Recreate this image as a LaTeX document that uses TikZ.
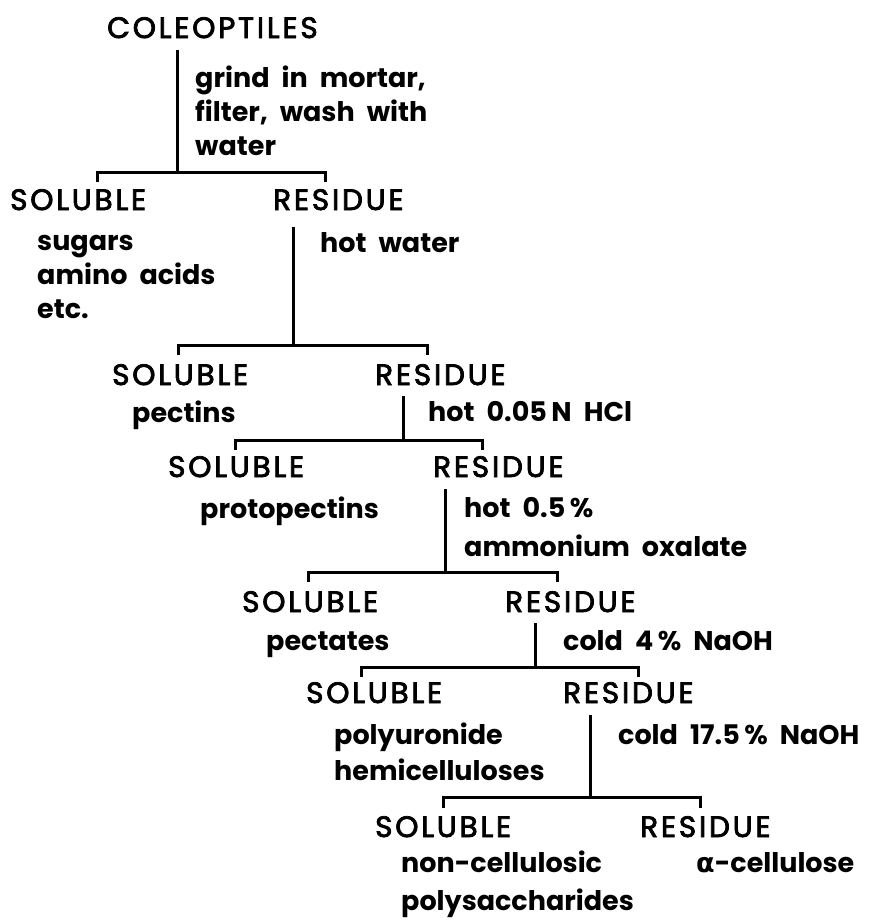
\documentclass[tikz,border=0pt]{standalone}
\usepackage{fontspec}
\setmainfont{Poppins}
\newfontfamily\capfont[FakeBold=2.6,LetterSpace=9.5]{Poppins}
\newfontfamily\lowfont[WordSpace=2.1]{Poppins}
\newfontfamily\greekfont{DejaVu Sans}
\begin{document}
\begin{tikzpicture}[x=1pt,y=-1pt,
  captext/.style={anchor=base west,inner sep=0pt,font=\capfont\fontsize{29.5}{29.5}\selectfont},
  lowtext/.style={anchor=base west,inner sep=0pt,font=\lowfont\fontsize{27}{27}\selectfont\bfseries},
  conn/.style={line width=3pt,line cap=butt}]
\useasboundingbox (0,0) rectangle (870,921);
% texts
\node[captext] (col) at (107,38) {COLEOPTILES};
\node[lowtext] (l1a) at (195,87) {grind in mortar,};
\node[lowtext] (l1b) at (195,121) {filter, wash with};
\node[lowtext] (l1c) at (195,155) {water};
\node[captext] (s1) at (10,210) {SOLUBLE};
\node[captext] (r1) at (273,210) {RESIDUE};
\node[lowtext] (s1a) at (37,250) {sugars};
\node[lowtext] (s1b) at (37,284) {amino acids};
\node[lowtext] (s1c) at (37,318) {etc.};
\node[lowtext] (l2) at (320,252) {hot water};
\node[captext] (s2) at (112,385) {SOLUBLE};
\node[captext] (r2) at (375,385) {RESIDUE};
\node[lowtext] (s2a) at (132,422) {pectins};
\node[lowtext] (l3) at (428,421) {hot 0.05\,N HCl};
\node[captext] (s3) at (168,477) {SOLUBLE};
\node[captext] (r3) at (433,477) {RESIDUE};
\node[lowtext] (s3a) at (200,518) {protopectins};
\node[lowtext] (l4a) at (464,517) {hot 0.5\,\%};
\node[lowtext] (l4b) at (464,556) {ammonium oxalate};
\node[captext] (s4) at (242,612) {SOLUBLE};
\node[captext] (r4) at (505,612) {RESIDUE};
\node[lowtext] (s4a) at (266,650) {pectates};
\node[lowtext] (l5) at (563,650) {cold 4\,\% NaOH};
\node[captext] (s5) at (306,703) {SOLUBLE};
\node[captext] (r5) at (563,703) {RESIDUE};
\node[lowtext] (s5a) at (334,744) {polyuronide};
\node[lowtext] (s5b) at (334,780) {hemicelluloses};
\node[lowtext] (l6) at (618,744) {cold 17.5\,\% NaOH};
\node[captext] (s6) at (375,837) {SOLUBLE};
\node[captext] (r6) at (640,837) {RESIDUE};
\node[lowtext] (s6a) at (401,872) {non-cellulosic};
\node[lowtext] (s6b) at (401,910) {polysaccharides};
\node[lowtext] (r6a) at (696,872) {{\greekfont\bfseries α}-cellulose};
% connector points
\coordinate (t1) at (177,50);  \coordinate (j1) at (177,172);
\coordinate (b1l) at (97,182); \coordinate (b1r) at (325,182);
\coordinate (t2) at (293,227); \coordinate (j2) at (293,345);
\coordinate (b2l) at (178,355); \coordinate (b2r) at (427,355);
\coordinate (t3) at (403,396); \coordinate (j3) at (403,440);
\coordinate (b3l) at (235,450); \coordinate (b3r) at (482,450);
\coordinate (t4) at (445,489); \coordinate (j4) at (445,572);
\coordinate (b4l) at (308,582); \coordinate (b4r) at (557,582);
\coordinate (t5) at (535,623); \coordinate (j5) at (535,667);
\coordinate (b5l) at (361,677); \coordinate (b5r) at (638,677);
\coordinate (t6) at (590,715); \coordinate (j6) at (590,797);
\coordinate (b6l) at (443,808); \coordinate (b6r) at (700,808);
\foreach \i in {1,...,6}{
  \draw[conn] (t\i) -- (j\i);
  \draw[conn] (b\i l) -- (b\i l |- j\i) -- (b\i r |- j\i) -- (b\i r);
}
\end{tikzpicture}
\end{document}
